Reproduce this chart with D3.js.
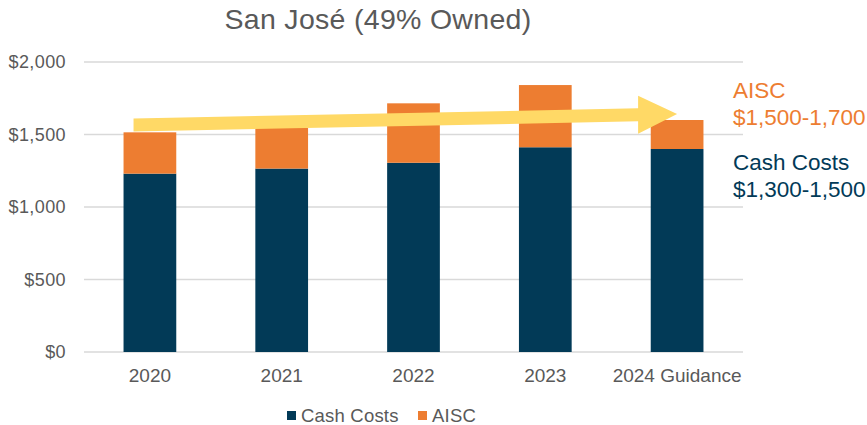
<!DOCTYPE html>
<html>
<head>
<meta charset="utf-8">
<script src="https://cdn.jsdelivr.net/npm/d3@7"></script>
<style>
  body { margin: 0; background: #fff; }
  svg { display: block; font-family: "Liberation Sans", Arial, sans-serif; }
</style>
</head>
<body>
<svg width="867" height="425"></svg>
<script>
// values
const categories = ["2020", "2021", "2022", "2023", "2024 Guidance"];
const cashCosts = [1230, 1265, 1305, 1412, 1400];
const aiscTotal = [1515, 1545, 1715, 1841, 1600];
const yTicks = [0, 500, 1000, 1500, 2000];
const seriesNames = ["Cash Costs", "AISC"];
// trend arrow: value at start (2020) and tip (2024)
const arrowValues = [1566, 1641];

const navy = "#023a57", orange = "#ed7d31", yellow = "#ffd966", grey = "#595959";

const svg = d3.select("svg");

const x = d3.scaleBand()
    .domain(categories)
    .range([84, 743])
    .paddingInner(0.6)
    .paddingOuter(0.3);

const y = d3.scaleLinear()
    .domain([0, 2000])
    .range([352, 62]);

// gridlines
svg.append("g")
    .selectAll("line")
    .data(yTicks)
    .join("line")
    .attr("x1", 84).attr("x2", 743)
    .attr("y1", d => y(d)).attr("y2", d => y(d))
    .attr("stroke", "#d9d9d9")
    .attr("stroke-width", 1.5);

// y axis labels
const yAxis = svg.append("g")
    .attr("transform", "translate(66,0)")
    .call(d3.axisLeft(y).tickValues(yTicks).tickSize(0).tickPadding(0)
        .tickFormat(d => "$" + d3.format(",")(d)));
yAxis.select(".domain").remove();
yAxis.selectAll("text")
    .attr("fill", grey)
    .style("font-size", "18px")
    .style("letter-spacing", "0.4px")
    .attr("font-family", null);

// x axis labels
const xAxis = svg.append("g")
    .attr("transform", "translate(0,360)")
    .call(d3.axisBottom(x).tickSize(0).tickPadding(0));
xAxis.select(".domain").remove();
xAxis.selectAll("text")
    .attr("fill", grey)
    .attr("dy", "22px")
    .style("font-size", "19px")
    .attr("font-family", null);

// stacked bars
const rows = categories.map((c, i) => ({ cat: c, cash: cashCosts[i], aisc: aiscTotal[i] }));

svg.append("g")
    .selectAll("rect")
    .data(rows)
    .join("rect")
    .attr("x", d => x(d.cat))
    .attr("width", x.bandwidth())
    .attr("y", d => y(d.cash))
    .attr("height", d => y(0) - y(d.cash))
    .attr("fill", navy);

svg.append("g")
    .selectAll("rect")
    .data(rows)
    .join("rect")
    .attr("x", d => x(d.cat))
    .attr("width", x.bandwidth())
    .attr("y", d => y(d.aisc))
    .attr("height", d => y(d.cash) - y(d.aisc))
    .attr("fill", orange);

// yellow trend arrow
const x0 = x(categories[0]) + 10;
const x1 = x(categories[4]) + x.bandwidth() / 2;
const y0 = y(arrowValues[0]), y1 = y(arrowValues[1]);
const headLen = 39, shaftHalf = 6.5, headHalf = 19;
const bx = x1 - headLen, by = y1 + (y0 - y1) * headLen / (x1 - x0);
svg.append("path")
    .attr("d", d3.line()([
        [x0, y0 - shaftHalf],
        [bx, by - shaftHalf],
        [bx, by - headHalf],
        [x1, y1],
        [bx, by + headHalf],
        [bx, by + shaftHalf],
        [x0, y0 + shaftHalf]
    ]) + "Z")
    .attr("fill", yellow);

// guidance annotation
const note = svg.append("g").style("font-size", "22.5px");
note.append("text").attr("x", 733).attr("y", 98).attr("fill", orange).text("AISC");
note.append("text").attr("x", 733).attr("y", 125).attr("fill", orange).text("$1,500-1,700");
note.append("text").attr("x", 733).attr("y", 170).attr("fill", navy).text("Cash Costs");
note.append("text").attr("x", 733).attr("y", 197).attr("fill", navy).text("$1,300-1,500");

// title
svg.append("text")
    .attr("x", 378).attr("y", 29)
    .attr("text-anchor", "middle")
    .attr("fill", grey)
    .style("font-size", "28.5px")
    .style("letter-spacing", "0.3px")
    .text("San José (49% Owned)");

// legend
const legendX = [287, 418];
const legend = svg.append("g")
    .selectAll("g")
    .data(seriesNames)
    .join("g")
    .attr("transform", (d, i) => `translate(${legendX[i]},411)`);
legend.append("rect")
    .attr("width", 9).attr("height", 9)
    .attr("fill", (d, i) => i === 0 ? navy : orange);
legend.append("text")
    .attr("x", 14).attr("y", 11)
    .attr("fill", grey)
    .style("font-size", "18.5px")
    .style("letter-spacing", "0.2px")
    .text(d => d);
</script>
</body>
</html>
